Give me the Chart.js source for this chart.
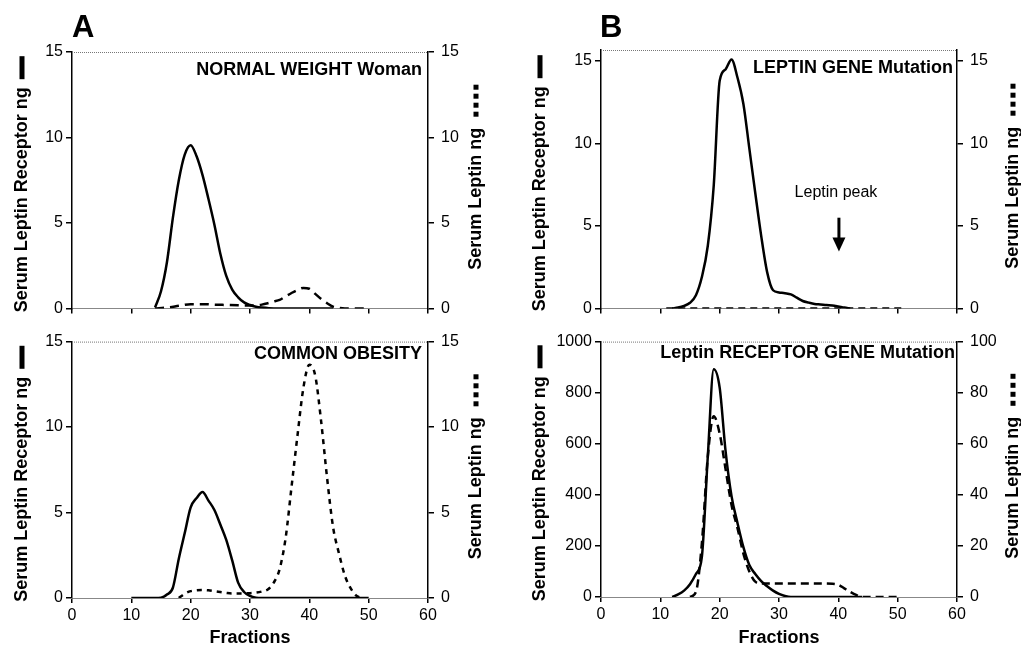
<!DOCTYPE html>
<html>
<head>
<meta charset="utf-8">
<script src="https://cdn.jsdelivr.net/npm/chart.js@4.4.1/dist/chart.umd.min.js"></script>
<style>
  html, body { margin: 0; padding: 0; background: #fff; }
  #wrap { position: relative; width: 1021px; height: 650px; overflow: hidden; background: #fff; }
  canvas { position: absolute; }
</style>
</head>
<body>
<div id="wrap">
  <canvas id="normal" width="510" height="325" style="left:0;top:0"></canvas>
  <canvas id="obesity" width="510" height="325" style="left:0;top:325px"></canvas>
  <canvas id="leptinGene" width="511" height="325" style="left:510px;top:0"></canvas>
  <canvas id="receptorGene" width="511" height="325" style="left:510px;top:325px"></canvas>
</div>
<script>
const FONT = "'Liberation Sans', Arial, Helvetica, sans-serif";

// shared ticks
const fractionTicks = [0, 10, 20, 30, 40, 50, 60];
const ngTicks = [0, 5, 10, 15];
const receptorMutTicks = [0, 200, 400, 600, 800, 1000];
const leptinMutTicks = [0, 20, 40, 60, 80, 100];

// A, top: normal weight woman
const normalRecFrac = [14, 15, 16, 17, 18, 19, 20, 21, 22, 23, 24, 25, 26, 27, 28, 29, 30, 31, 32, 34, 38, 44];
const normalRecVal  = [0.05, 1.0, 2.7, 5.3, 7.5, 9.0, 9.55, 8.9, 7.8, 6.4, 4.9, 3.2, 1.9, 1.1, 0.65, 0.35, 0.2, 0.1, 0.05, 0, 0, 0];
const normalLepFrac = [14, 16, 18, 20, 22, 24, 26, 28, 30, 31, 32, 33, 34, 35, 36, 37, 38, 39, 40, 41, 42, 43, 44, 45, 46, 48, 50];
const normalLepVal  = [0, 0.05, 0.15, 0.25, 0.25, 0.22, 0.2, 0.18, 0.17, 0.18, 0.22, 0.3, 0.4, 0.5, 0.7, 0.9, 1.08, 1.2, 1.15, 0.85, 0.55, 0.3, 0.1, 0.03, 0, 0, 0];

// A, bottom: common obesity
const obeseRecFrac = [10, 12, 14, 15, 16, 17, 18, 19, 20, 21, 22, 23, 24, 25, 26, 27, 28, 29, 30, 31, 32, 36, 40, 45, 50];
const obeseRecVal  = [0, 0, 0, 0.02, 0.2, 0.6, 2.3, 3.8, 5.3, 5.85, 6.2, 5.7, 5.15, 4.3, 3.4, 2.2, 0.9, 0.35, 0.12, 0.02, 0, 0, 0, 0, 0];
const obeseLepFrac = [18, 19, 20, 21, 22, 23, 24, 25, 26, 27, 28, 29, 30, 31, 32, 33, 34, 35, 36, 37, 38, 39, 40, 41, 42, 43, 44, 45, 46, 47, 48, 49];
const obeseLepVal  = [0, 0.25, 0.4, 0.45, 0.47, 0.45, 0.4, 0.35, 0.3, 0.27, 0.27, 0.27, 0.28, 0.31, 0.38, 0.5, 0.9, 1.7, 3.5, 6.5, 9.5, 12.3, 13.65, 13.0, 10.3, 7.0, 4.15, 2.6, 1.3, 0.55, 0.12, 0];

// B, top: leptin gene mutation
const lepGeneRecFrac = [12, 13, 14, 15, 16, 17, 18, 19, 20, 21, 22, 23, 24, 25, 26, 27, 28, 29, 30, 31, 32, 33, 34, 35, 36, 37, 38, 39, 40, 41, 42];
const lepGeneRecVal  = [0, 0.05, 0.15, 0.34, 0.8, 1.9, 3.8, 7.45, 13.8, 14.5, 15.1, 14.0, 12.4, 9.7, 7.0, 4.4, 2.2, 1.1, 0.97, 0.92, 0.85, 0.65, 0.45, 0.35, 0.27, 0.24, 0.2, 0.18, 0.12, 0.05, 0];
const lepGeneLepFrac = [11, 20, 30, 40, 51];
const lepGeneLepVal  = [0, 0, 0, 0, 0];

// B, bottom: leptin receptor gene mutation
const recGeneRecFrac = [12, 13, 14, 15, 16, 17, 18, 19, 20, 21, 22, 23, 24, 25, 26, 27, 28, 29, 30, 31, 32, 36, 40, 44];
const recGeneRecVal  = [0, 10, 25, 50, 90, 157, 550, 892, 820, 570, 395, 290, 195, 125, 90, 62, 42, 25, 12, 4, 0, 0, 0, 0];
const recGeneLepFrac = [15, 16, 17, 18, 19, 20, 21, 22, 23, 24, 25, 26, 27, 30, 35, 39, 40, 41, 42, 43, 44, 46, 48, 50];
const recGeneLepVal  = [0, 2, 21, 55, 70.8, 64, 50, 36, 27, 17, 10, 6, 5.3, 5.3, 5.3, 5.2, 4.8, 3.4, 2, 0.8, 0, 0, 0, 0];

const pts = (fr, vals) => fr.map((x, i) => ({ x, y: vals[i] }));

function axisTitle(ctx, text, x, cy, mark) {
  ctx.save();
  ctx.font = `bold 18px ${FONT}`;
  const w = ctx.measureText(text).width;
  const gap = mark === 'bar' ? 8 : 11;
  const len = mark === 'bar' ? 23 : 32;
  const total = w + gap + len;
  ctx.translate(x, cy);
  ctx.rotate(-Math.PI / 2);
  ctx.textAlign = 'left';
  ctx.textBaseline = 'middle';
  ctx.fillText(text, -total / 2, 0);
  const s = -total / 2 + w + gap;
  if (mark === 'bar') ctx.fillRect(s, -2.5, len, 5);
  else for (let i = 0; i < 4; i++) ctx.fillRect(s + i * 9, -2.5, 5, 5);
  ctx.restore();
}

const panelDeco = {
  id: 'panelDeco',
  afterDraw(chart, args, o) {
    const ctx = chart.ctx, a = chart.chartArea;
    ctx.save();
    ctx.strokeStyle = '#777';
    ctx.lineWidth = 1;
    ctx.setLineDash([1, 1]);
    ctx.beginPath();
    ctx.moveTo(a.left, a.top + 0.5);
    ctx.lineTo(a.right, a.top + 0.5);
    ctx.stroke();
    ctx.setLineDash([]);
    ctx.fillStyle = '#000';
    if (o.letter) {
      ctx.font = `bold 31px ${FONT}`;
      ctx.textAlign = 'left';
      ctx.textBaseline = 'alphabetic';
      ctx.fillText(o.letter, o.letterX, 37);
    }
    ctx.font = `bold 18px ${FONT}`;
    ctx.textAlign = 'right';
    ctx.textBaseline = 'middle';
    ctx.fillText(o.title, a.right - o.titleDx, a.top + o.titleDy);
    const cy = (a.top + a.bottom) / 2;
    axisTitle(ctx, 'Serum Leptin Receptor ng', o.leftX, cy + 4, 'bar');
    axisTitle(ctx, 'Serum Leptin ng', o.rightX, cy - 3, 'dots');
    if (o.note) {
      const xs = chart.scales.x, ys = chart.scales.y;
      ctx.font = `16px ${FONT}`;
      ctx.textAlign = 'center';
      ctx.fillText(o.note.text, xs.getPixelForValue(o.note.textFrac), ys.getPixelForValue(o.note.textVal));
      const ax = xs.getPixelForValue(o.note.frac);
      const top = ys.getPixelForValue(o.note.top), bot = ys.getPixelForValue(o.note.bottom);
      ctx.fillRect(ax - 1.5, top, 3, bot - top - 12);
      ctx.beginPath();
      ctx.moveTo(ax - 6.5, bot - 14);
      ctx.lineTo(ax + 6.5, bot - 14);
      ctx.lineTo(ax, bot);
      ctx.closePath();
      ctx.fill();
    }
    ctx.restore();
  }
};

function makePanel(id, c) {
  const tickFont = { family: FONT, size: 16 };
  const plain = v => String(v);
  new Chart(document.getElementById(id), {
    type: 'line',
    data: {
      datasets: [
        { data: pts(c.recFrac, c.recVal), yAxisID: 'y', borderColor: '#000', borderWidth: 2.5,
          pointRadius: 0, cubicInterpolationMode: 'monotone', fill: false },
        { data: pts(c.lepFrac, c.lepVal), yAxisID: 'y2', borderColor: '#000', borderWidth: 2.5,
          borderDash: c.dash, pointRadius: 0, cubicInterpolationMode: 'monotone', fill: false }
      ]
    },
    options: {
      responsive: false,
      animation: false,
      layout: { padding: { top: c.padTop, left: 0, right: 0, bottom: 0 } },
      plugins: { legend: { display: false }, tooltip: { enabled: false }, panelDeco: c.deco },
      scales: {
        x: {
          type: 'linear', min: 0, max: 60,
          afterBuildTicks: s => { s.ticks = fractionTicks.map(v => ({ value: v })); },
          afterFit: s => { s.height = c.xHeight; },
          grid: { drawOnChartArea: false, tickLength: 5, color: '#000', lineWidth: 1.5 },
          border: { color: '#888', width: 1, dash: [1, 1] },
          ticks: { display: c.showX, font: tickFont, color: '#000', padding: 3, maxRotation: 0, callback: plain },
          title: { display: c.showX, text: 'Fractions', color: '#000',
                   font: { family: FONT, size: 18, weight: 'bold' }, padding: { top: 0, bottom: 1 } }
        },
        y: {
          position: 'left', min: 0, max: c.yMax,
          afterBuildTicks: s => { s.ticks = c.yTicks.map(v => ({ value: v })); },
          afterFit: s => { s.width = c.leftW; },
          grid: { drawOnChartArea: false, tickLength: 6, color: '#000', lineWidth: 1.5 },
          border: { color: '#000', width: 1.5 },
          ticks: { font: tickFont, color: '#000', padding: 3, callback: plain }
        },
        y2: {
          position: 'right', min: 0, max: c.y2Max,
          afterBuildTicks: s => { s.ticks = c.y2Ticks.map(v => ({ value: v })); },
          afterFit: s => { s.width = c.rightW; },
          grid: { drawOnChartArea: false, tickLength: 6, color: '#000', lineWidth: 1.5 },
          border: { color: '#000', width: 1.5 },
          ticks: { font: tickFont, color: '#000', padding: 7, callback: plain }
        }
      }
    },
    plugins: [panelDeco]
  });
}

makePanel('normal', {
  recFrac: normalRecFrac, recVal: normalRecVal, lepFrac: normalLepFrac, lepVal: normalLepVal,
  dash: [9, 6], padTop: 52, xHeight: 15, showX: false, leftW: 72, rightW: 82,
  yMax: 15, yTicks: ngTicks, y2Max: 15, y2Ticks: ngTicks,
  deco: { letter: 'A', letterX: 72, title: 'NORMAL WEIGHT Woman', titleDx: 6, titleDy: 18, leftX: 22, rightX: 476 }
});
makePanel('obesity', {
  recFrac: obeseRecFrac, recVal: obeseRecVal, lepFrac: obeseLepFrac, lepVal: obeseLepVal,
  dash: [5, 5], padTop: 15, xHeight: 52, showX: true, leftW: 72, rightW: 82,
  yMax: 15, yTicks: ngTicks, y2Max: 15, y2Ticks: ngTicks,
  deco: { title: 'COMMON OBESITY', titleDx: 6, titleDy: 12, leftX: 22, rightX: 476 }
});
makePanel('leptinGene', {
  recFrac: lepGeneRecFrac, recVal: lepGeneRecVal, lepFrac: lepGeneLepFrac, lepVal: lepGeneLepVal,
  dash: [7, 5], padTop: 50, xHeight: 16, showX: false, leftW: 91, rightW: 64,
  yMax: 15.67, yTicks: ngTicks, y2Max: 15.67, y2Ticks: ngTicks,
  deco: { letter: 'B', letterX: 90, title: 'LEPTIN GENE Mutation', titleDx: 4, titleDy: 18, leftX: 30, rightX: 503,
          note: { text: 'Leptin peak', textFrac: 39.6, textVal: 7.0, frac: 40.1, top: 5.5, bottom: 3.45 } }
});
makePanel('receptorGene', {
  recFrac: recGeneRecFrac, recVal: recGeneRecVal, lepFrac: recGeneLepFrac, lepVal: recGeneLepVal,
  dash: [8, 5], padTop: 15, xHeight: 53, showX: true, leftW: 91, rightW: 64,
  yMax: 1000, yTicks: receptorMutTicks, y2Max: 100, y2Ticks: leptinMutTicks,
  deco: { title: 'Leptin RECEPTOR GENE Mutation', titleDx: 2, titleDy: 11, leftX: 30, rightX: 503 }
});
</script>
</body>
</html>
